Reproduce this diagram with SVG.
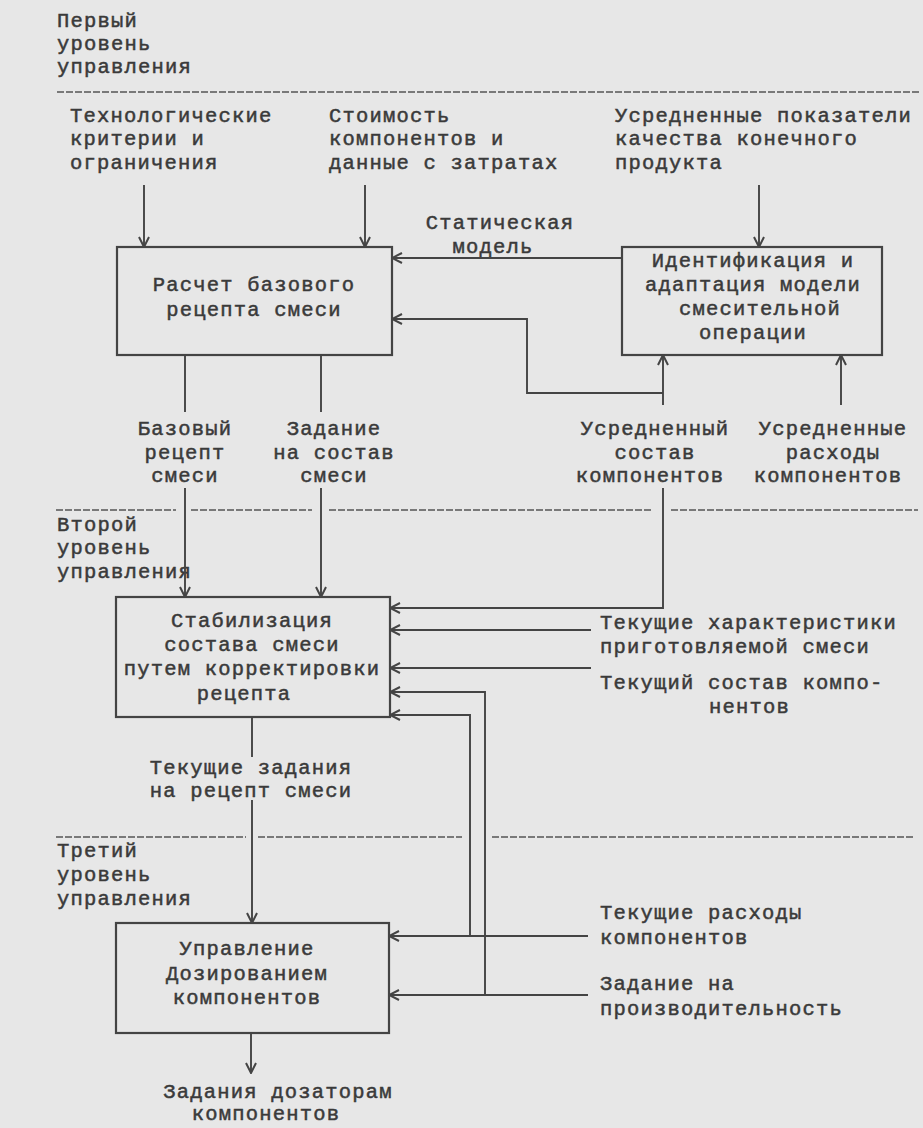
<svg xmlns="http://www.w3.org/2000/svg" width="923" height="1128" viewBox="0 0 923 1128">
<style>
.t{font-family:"Liberation Mono","DejaVu Sans Mono",monospace;font-size:20.5px;letter-spacing:1.2px;fill:#3a3a3a;stroke:#3a3a3a;stroke-width:0.5}
.c{text-anchor:middle}
.ln{stroke:#444;stroke-width:1.9;fill:none}
.box{fill:none;stroke:#444;stroke-width:2.2}
.dash{stroke:#555;stroke-width:1.6;stroke-dasharray:7 2;fill:none}
</style>
<defs>
<marker id="ah" viewBox="0 0 12 12" refX="11" refY="6" markerWidth="12" markerHeight="12" markerUnits="userSpaceOnUse" orient="auto">
<path d="M1,1 L11,6 L1,11" fill="none" stroke="#444" stroke-width="2"/>
</marker>
</defs>
<rect x="0" y="0" width="923" height="1128" fill="#e7e7e7"/>

<g id="levels">
<text class="t"><tspan x="57" y="27">Первый</tspan><tspan x="57" y="50">уровень</tspan><tspan x="57" y="73">управления</tspan></text>
<text class="t"><tspan x="57" y="531">Второй</tspan><tspan x="57" y="554">уровень</tspan><tspan x="57" y="578">управления</tspan></text>
<text class="t"><tspan x="57" y="857">Третий</tspan><tspan x="57" y="881">уровень</tspan><tspan x="57" y="905">управления</tspan></text>
<path class="dash" d="M57,92 H920"/>
<path class="dash" d="M56,510 H176 M191,510 H312 M329,510 H653 M671,510 H918"/>
<path class="dash" d="M56,837 H246 M258,837 H462 M492,837 H915"/>
</g>

<g id="inputs-top">
<text class="t"><tspan x="70" y="122">Технологические</tspan><tspan x="70" y="145">критерии и</tspan><tspan x="70" y="169">ограничения</tspan></text>
<text class="t"><tspan x="329" y="122">Стоимость</tspan><tspan x="329" y="145">компонентов и</tspan><tspan x="329" y="169">данные с затратах</tspan></text>
<text class="t"><tspan x="615" y="122">Усредненные показатели</tspan><tspan x="615" y="145">качества конечного</tspan><tspan x="615" y="169">продукта</tspan></text>
</g>

<g id="node-raschet">
<rect class="box" x="117" y="247" width="275" height="108"/>
<text class="t c"><tspan x="254" y="291">Расчет базового</tspan><tspan x="254" y="316">рецепта смеси</tspan></text>
</g>

<g id="node-identifikaciya">
<rect class="box" x="622" y="247" width="260" height="108"/>
<text class="t c"><tspan x="753" y="267">Идентификация   и</tspan><tspan x="753" y="291">адаптация модели</tspan><tspan x="760" y="315">смесительной</tspan><tspan x="753" y="339">операции</tspan></text>
</g>

<g id="node-stabilizaciya">
<rect class="box" x="116" y="597" width="274" height="120"/>
<text class="t c"><tspan x="252" y="627">Стабилизация</tspan><tspan x="252" y="651">состава смеси</tspan><tspan x="252" y="675">путем корректировки</tspan><tspan x="244" y="700">рецепта</tspan></text>
</g>

<g id="node-upravlenie">
<rect class="box" x="116" y="923" width="273" height="110"/>
<text class="t c"><tspan x="247" y="955">Управление</tspan><tspan x="247" y="980">Дозированием</tspan><tspan x="247" y="1004">компонентов</tspan></text>
</g>

<g id="labels">
<text class="t c"><tspan x="500" y="229">Статическая</tspan><tspan x="493" y="253">модель</tspan></text>
<text class="t c"><tspan x="185" y="435">Базовый</tspan><tspan x="185" y="459">рецепт</tspan><tspan x="185" y="482">смеси</tspan></text>
<text class="t c"><tspan x="334" y="435">Задание</tspan><tspan x="334" y="459">на состав</tspan><tspan x="334" y="482">смеси</tspan></text>
<text class="t c"><tspan x="655" y="435">Усредненный</tspan><tspan x="655" y="459">состав</tspan><tspan x="650" y="482">компонентов</tspan></text>
<text class="t c"><tspan x="833" y="435">Усредненные</tspan><tspan x="833" y="459">расходы</tspan><tspan x="828" y="482">компонентов</tspan></text>
<text class="t"><tspan x="600" y="629">Текущие характеристики</tspan><tspan x="600" y="653">приготовляемой смеси</tspan></text>
<text class="t"><tspan x="600" y="689">Текущий состав компо-</tspan><tspan x="709" y="713">нентов</tspan></text>
<text class="t c"><tspan x="251" y="774">Текущие задания</tspan><tspan x="251" y="797">на рецепт смеси</tspan></text>
<text class="t"><tspan x="600" y="919">Текущие расходы</tspan><tspan x="600" y="944">компонентов</tspan></text>
<text class="t"><tspan x="600" y="990">Задание на</tspan><tspan x="600" y="1015">производительность</tspan></text>
<text class="t c"><tspan x="278" y="1098">Задания дозаторам</tspan><tspan x="266" y="1120">компонентов</tspan></text>
</g>

<g id="connectors">
<path class="ln" d="M144,185 V247" marker-end="url(#ah)"/>
<path class="ln" d="M365,185 V247" marker-end="url(#ah)"/>
<path class="ln" d="M759,185 V247" marker-end="url(#ah)"/>
<path class="ln" d="M622,258 H392" marker-end="url(#ah)"/>
<path class="ln" d="M663,393 H527 V319 H392" marker-end="url(#ah)"/>
<path class="ln" d="M663,405 V355" marker-end="url(#ah)"/>
<path class="ln" d="M841,405 V355" marker-end="url(#ah)"/>
<path class="ln" d="M185,355 V412"/>
<path class="ln" d="M321,355 V412"/>
<path class="ln" d="M185,488 V597" marker-end="url(#ah)"/>
<path class="ln" d="M321,488 V597" marker-end="url(#ah)"/>
<path class="ln" d="M663,488 V608 H390" marker-end="url(#ah)"/>
<path class="ln" d="M591,630 H390" marker-end="url(#ah)"/>
<path class="ln" d="M591,668 H390" marker-end="url(#ah)"/>
<path class="ln" d="M485,995 V692 H390" marker-end="url(#ah)"/>
<path class="ln" d="M470,936 V715 H390" marker-end="url(#ah)"/>
<path class="ln" d="M252,717 V757"/>
<path class="ln" d="M252,800 V923" marker-end="url(#ah)"/>
<path class="ln" d="M588,936 H389" marker-end="url(#ah)"/>
<path class="ln" d="M588,995 H389" marker-end="url(#ah)"/>
<path class="ln" d="M251,1033 V1073" marker-end="url(#ah)"/>
</g>
</svg>
